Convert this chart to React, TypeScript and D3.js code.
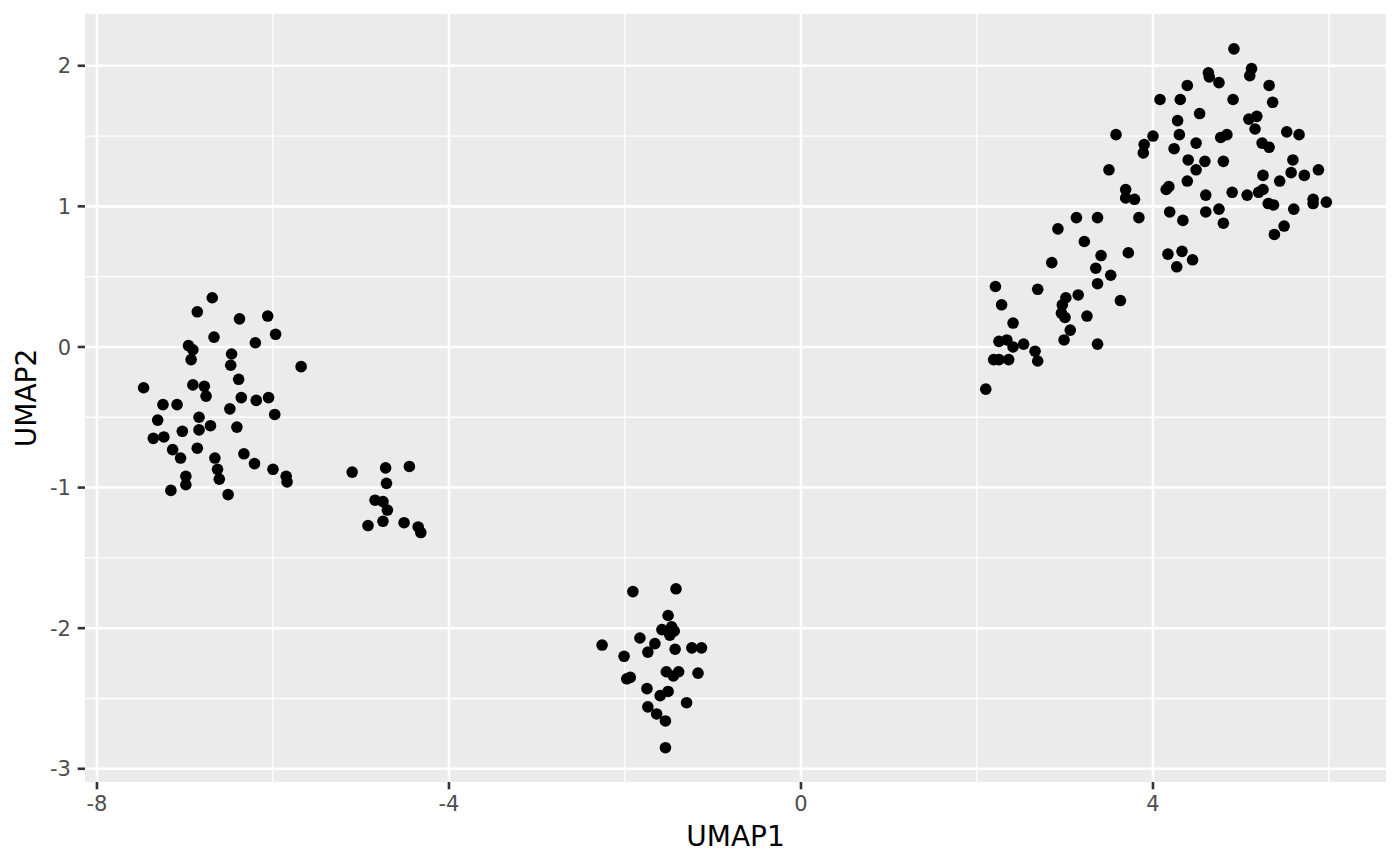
import * as d3 from "d3";

// UMAP embedding, one array per cluster: [UMAP1, UMAP2]
const leftCluster: [number, number][] = [
  [-6.69, 0.35], [-6.86, 0.25], [-6.38, 0.2], [-6.06, 0.22], [-5.97, 0.09],
  [-6.67, 0.07], [-6.2, 0.03], [-6.96, 0.01], [-6.91, -0.02], [-6.93, -0.09],
  [-6.47, -0.05], [-6.48, -0.13], [-5.68, -0.14], [-6.39, -0.23], [-7.47, -0.29],
  [-6.91, -0.27], [-6.78, -0.28], [-6.76, -0.35], [-6.36, -0.36], [-6.19, -0.38],
  [-6.05, -0.36], [-7.25, -0.41], [-7.09, -0.41], [-6.49, -0.44], [-5.98, -0.48],
  [-7.31, -0.52], [-6.84, -0.5], [-6.71, -0.56], [-6.41, -0.57], [-6.84, -0.59],
  [-7.03, -0.6], [-7.36, -0.65], [-7.24, -0.64], [-7.14, -0.73], [-6.86, -0.72],
  [-7.05, -0.79], [-6.66, -0.79], [-6.33, -0.76], [-6.21, -0.83], [-6.0, -0.87],
  [-6.63, -0.87], [-6.61, -0.94], [-5.85, -0.92], [-5.84, -0.96], [-6.99, -0.92],
  [-6.99, -0.98], [-7.16, -1.02], [-6.51, -1.05],
];

const middleCluster: [number, number][] = [
  [-5.1, -0.89], [-4.72, -0.86], [-4.45, -0.85], [-4.71, -0.97], [-4.84, -1.09],
  [-4.75, -1.1], [-4.7, -1.16], [-4.75, -1.24], [-4.92, -1.27], [-4.51, -1.25],
  [-4.35, -1.28], [-4.32, -1.32],
];

const bottomCluster: [number, number][] = [
  [-1.91, -1.74], [-1.42, -1.72], [-1.51, -1.91], [-1.58, -2.01], [-1.47, -1.99],
  [-1.49, -2.05], [-1.44, -2.02], [-1.83, -2.07], [-1.66, -2.11], [-1.74, -2.17],
  [-2.26, -2.12], [-2.01, -2.2], [-1.43, -2.15], [-1.24, -2.14], [-1.13, -2.14],
  [-1.53, -2.31], [-1.39, -2.31], [-1.45, -2.34], [-1.17, -2.32], [-1.98, -2.36],
  [-1.94, -2.35], [-1.75, -2.43], [-1.6, -2.48], [-1.51, -2.45], [-1.3, -2.53],
  [-1.74, -2.56], [-1.64, -2.61], [-1.54, -2.66], [-1.54, -2.85],
];

const rightCluster: [number, number][] = [
  [3.22, 0.75], [3.41, 0.65], [3.72, 0.67], [2.85, 0.6], [3.35, 0.56],
  [3.52, 0.51], [3.37, 0.45], [2.21, 0.43], [2.69, 0.41], [3.15, 0.37],
  [3.01, 0.35], [2.97, 0.3], [2.28, 0.3], [3.63, 0.33], [2.96, 0.24],
  [3.0, 0.21], [3.25, 0.22], [2.41, 0.17], [3.06, 0.12], [2.99, 0.05],
  [3.37, 0.02], [2.25, 0.04], [2.34, 0.05], [2.41, 0.0], [2.53, 0.02],
  [2.66, -0.03], [2.69, -0.1], [2.19, -0.09], [2.25, -0.09], [2.36, -0.09],
  [2.1, -0.3], [4.28, 1.61], [3.58, 1.51], [4.0, 1.5], [4.3, 1.51],
  [3.9, 1.44], [3.89, 1.38], [4.24, 1.41], [4.49, 1.45], [4.4, 1.33],
  [4.49, 1.26], [3.5, 1.26], [4.39, 1.18], [4.15, 1.12], [4.18, 1.14],
  [3.69, 1.12], [3.69, 1.06], [3.79, 1.05], [3.13, 0.92], [3.37, 0.92],
  [3.84, 0.92], [4.19, 0.96], [4.34, 0.9], [2.92, 0.84], [4.17, 0.66],
  [4.33, 0.68], [4.45, 0.62], [4.27, 0.57], [4.92, 2.12], [4.63, 1.95],
  [4.64, 1.92], [4.75, 1.88], [5.12, 1.98], [5.1, 1.93], [5.32, 1.86],
  [4.39, 1.86], [4.08, 1.76], [4.31, 1.76], [4.91, 1.76], [5.36, 1.74],
  [4.53, 1.66], [5.09, 1.62], [5.18, 1.64], [5.16, 1.55], [4.77, 1.49],
  [4.84, 1.51], [5.52, 1.53], [5.66, 1.51], [5.24, 1.45], [5.32, 1.42],
  [4.59, 1.32], [4.8, 1.32], [5.59, 1.33], [5.25, 1.22], [5.57, 1.24],
  [5.72, 1.22], [5.44, 1.18], [4.6, 1.08], [4.9, 1.1], [5.07, 1.08],
  [5.2, 1.1], [5.25, 1.12], [5.31, 1.02], [5.37, 1.01], [5.6, 0.98],
  [4.6, 0.96], [4.75, 0.98], [4.8, 0.88], [5.49, 0.86], [5.38, 0.8],
  [5.88, 1.26], [5.82, 1.05], [5.82, 1.02], [5.97, 1.03],
];

const xTicks = [-8, -4, 0, 4];
const xMinor = [-6, -2, 2, 6];
const yTicks = [-3, -2, -1, 0, 1, 2];
const yMinor = [-2.5, -1.5, -0.5, 0.5, 1.5];

const width = 1400;
const height = 866;
const panel = { left: 85, right: 1386, top: 14, bottom: 782 };

export default function App() {
  const points = [...leftCluster, ...middleCluster, ...bottomCluster, ...rightCluster];

  const x = d3.scaleLinear().domain([-8.136, 6.648]).range([panel.left, panel.right]);
  const y = d3.scaleLinear().domain([-3.094, 2.368]).range([panel.bottom, panel.top]);

  const font = "'DejaVu Sans', sans-serif";

  return (
    <div style={{ position: "fixed", left: 0, top: 0, background: "#fff" }}>
      <svg width={width} height={height} style={{ display: "block" }}>
        {/* panel */}
        <rect
          x={panel.left}
          y={panel.top}
          width={panel.right - panel.left}
          height={panel.bottom - panel.top}
          fill="#EBEBEB"
        />
        {/* minor grid */}
        {xMinor.map((d) => (
          <line key={"xm" + d} x1={x(d)} x2={x(d)} y1={panel.top} y2={panel.bottom} stroke="#fff" strokeWidth={1.3} />
        ))}
        {yMinor.map((d) => (
          <line key={"ym" + d} x1={panel.left} x2={panel.right} y1={y(d)} y2={y(d)} stroke="#fff" strokeWidth={1.3} />
        ))}
        {/* major grid */}
        {xTicks.map((d) => (
          <line key={"xM" + d} x1={x(d)} x2={x(d)} y1={panel.top} y2={panel.bottom} stroke="#fff" strokeWidth={2.6} />
        ))}
        {yTicks.map((d) => (
          <line key={"yM" + d} x1={panel.left} x2={panel.right} y1={y(d)} y2={y(d)} stroke="#fff" strokeWidth={2.6} />
        ))}

        {/* points */}
        <g fill="#000">
          {points.map(([px, py], i) => (
            <circle key={i} cx={x(px)} cy={y(py)} r={5.8} />
          ))}
        </g>

        {/* x axis */}
        {xTicks.map((d) => (
          <g key={"xt" + d}>
            <line x1={x(d)} x2={x(d)} y1={panel.bottom} y2={panel.bottom + 7.3} stroke="#333333" strokeWidth={2.6} />
            <text
              x={x(d)}
              y={811}
              textAnchor="middle"
              fontFamily={font}
              fontSize={21}
              fill="#4D4D4D"
            >
              {d}
            </text>
          </g>
        ))}
        {/* y axis */}
        {yTicks.map((d) => (
          <g key={"yt" + d}>
            <line x1={panel.left - 7.3} x2={panel.left} y1={y(d)} y2={y(d)} stroke="#333333" strokeWidth={2.6} />
            <text
              x={71}
              y={y(d)}
              dy="0.36em"
              textAnchor="end"
              fontFamily={font}
              fontSize={21}
              fill="#4D4D4D"
            >
              {d}
            </text>
          </g>
        ))}

        {/* axis titles */}
        <text
          x={(panel.left + panel.right) / 2}
          y={846}
          textAnchor="middle"
          fontFamily={font}
          fontSize={28}
          fill="#000"
        >
          UMAP1
        </text>
        <text
          transform={`translate(36,${(panel.top + panel.bottom) / 2}) rotate(-90)`}
          textAnchor="middle"
          fontFamily={font}
          fontSize={28}
          fill="#000"
        >
          UMAP2
        </text>
      </svg>
    </div>
  );
}
